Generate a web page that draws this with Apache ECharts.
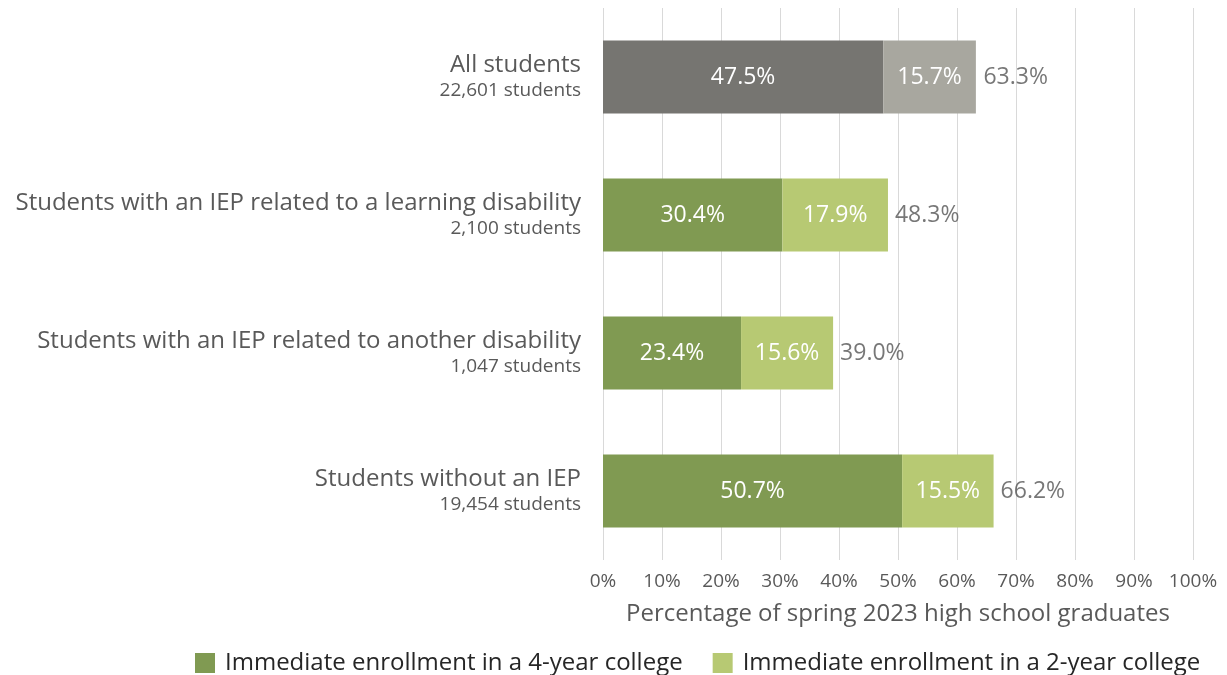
<!DOCTYPE html>
<html><head><meta charset="utf-8">
<script src="https://cdn.jsdelivr.net/npm/echarts@6/dist/echarts.min.js"></script>
<style>html,body{margin:0;padding:0;background:#fff}#c{width:1227px;height:675px}</style>
</head><body><div id="c"></div>
<script>
const groups = ['All students','Students with an IEP related to a learning disability','Students with an IEP related to another disability','Students without an IEP'];
const counts = ['22,601 students','2,100 students','1,047 students','19,454 students'];
const fourYear = [47.5, 30.4, 23.4, 50.7];
const twoYear = [15.7, 17.9, 15.6, 15.5];
const totals = [63.3, 48.3, 39.0, 66.2];
const xTicks = [0,10,20,30,40,50,60,70,80,90,100];

const FONT = 'Open Sans';
const idx = [3,2,1,0];
const chart = echarts.init(document.getElementById('c'));
chart.setOption({
  animation:false,
  textStyle:{fontFamily:FONT},
  grid:{left:603,right:34,top:8,bottom:115,containLabel:false},
  legend:{
    left:190, top:646, itemWidth:20, itemHeight:20, itemGap:30,
    icon:'rect',
    textStyle:{fontFamily:FONT,fontSize:24,color:'#262626',padding:[0,0,0,5]},
    data:['Immediate enrollment in a 4-year college','Immediate enrollment in a 2-year college']
  },
  xAxis:{
    type:'value', min:xTicks[0], max:xTicks[xTicks.length-1], interval:10,
    axisLine:{show:false}, axisTick:{show:false},
    splitLine:{lineStyle:{color:'#d9d9d9',width:1}},
    axisLabel:{formatter:v=>v+'%',fontSize:19,color:'#595959',margin:12,fontFamily:FONT},
    name:'Percentage of spring 2023 high school graduates',
    nameLocation:'middle', nameGap:42,
    nameTextStyle:{fontSize:24,color:'#595959',fontFamily:FONT}
  },
  yAxis:{
    type:'category',
    data: idx.map(i=>groups[i]),
    axisLine:{show:false}, axisTick:{show:false},
    axisLabel:{
      margin:22, align:'right',
      formatter:(v,k)=>{const i=idx[k];return '{a|'+groups[i]+'}\n{b|'+counts[i]+'}';},
      rich:{
        a:{fontSize:24,color:'#595959',fontFamily:FONT,lineHeight:28,align:'right'},
        b:{fontSize:19,color:'#595959',fontFamily:FONT,lineHeight:24,align:'right'}
      }
    }
  },
  series:[
    {
      name:'Immediate enrollment in a 4-year college', type:'bar', stack:'s',
      barCategoryGap:'47%',
      itemStyle:{color:'#809a52'},
      label:{show:true,position:'inside',color:'#fff',fontSize:23,fontFamily:FONT,formatter:p=>p.value.toFixed(1)+'%'},
      data: idx.map(i=> i===0 ? {value:fourYear[i],itemStyle:{color:'#767571'}} : fourYear[i])
    },
    {
      name:'Immediate enrollment in a 2-year college', type:'bar', stack:'s',
      barCategoryGap:'47%',
      itemStyle:{color:'#b7c973'},
      label:{show:true,position:'inside',color:'#fff',fontSize:23,fontFamily:FONT,formatter:p=>p.value.toFixed(1)+'%'},
      data: idx.map(i=> i===0 ? {value:twoYear[i],itemStyle:{color:'#a8a79f'}} : twoYear[i])
    },
    {
      name:'total', type:'scatter', symbolSize:0, silent:true,
      label:{show:true,position:'right',distance:7,color:'#555555',fontSize:23,fontFamily:FONT,formatter:p=>p.value[0].toFixed(1)+'%'},
      data: idx.map((i,k)=>[totals[i], k])
    }
  ]
});
</script></body></html>
